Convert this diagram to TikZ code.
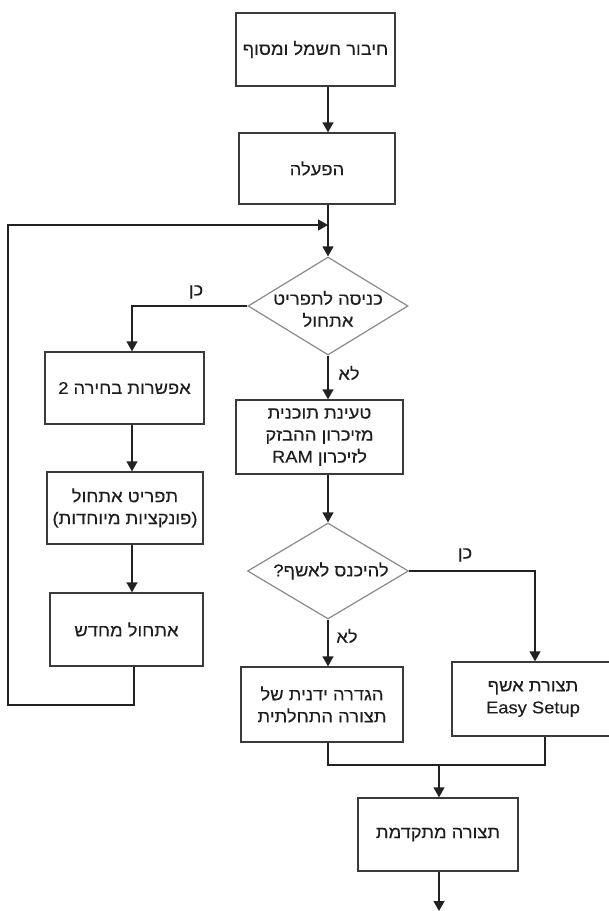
\documentclass[tikz,border=0pt]{standalone}
\usepackage{fontspec}
\setmainfont{Liberation Sans}
\newfontfamily\hebfont[Script=Hebrew,FakeStretch=1.08,FakeBold=0.25]{Liberation Sans}
\TeXXeTstate=1
\usetikzlibrary{arrows.meta,shapes.geometric}
\newcommand\heb[1]{\beginR #1\endR}
\definecolor{boxc}{HTML}{3A3A3A}
\definecolor{diac}{HTML}{8A8A8A}
\definecolor{linec}{HTML}{222222}
\definecolor{txtc}{HTML}{1E1E1E}
\tikzset{
  txt/.style={font=\hebfont\fontsize{17}{22}\selectfont, text=txtc, align=center},
  box/.style={txt, draw=boxc, line width=1.3pt, fill=white, inner sep=0pt},
  dia/.style={diamond, draw=diac, line width=1.2pt, fill=white, inner sep=0pt},
  lbl/.style={txt, inner sep=0pt},
  conn/.style={draw=linec, line width=1.3pt},
  arr/.style={conn, -{Triangle[length=10pt,width=11pt]}}
}
\begin{document}
\begin{tikzpicture}[x=1pt,y=-1pt]
\useasboundingbox[fill=white] (0,0) rectangle (609,911);

% boxes
\node[box, minimum width=159pt, minimum height=73pt] (b1) at (315.5,49.5) {\heb{חיבור חשמל ומסוף}};
\node[box, minimum width=156pt, minimum height=71pt] (b2) at (317,168.5) {\heb{הפעלה}};
\node[box, minimum width=159pt, minimum height=72pt] (b3) at (124.5,388) {\heb{אפשרות בחירה 2}};
\node[box, minimum width=156pt, minimum height=72pt] (b4) at (125,508) {\heb{תפריט אתחול}\\\heb{(פונקציות מיוחדות)}};
\node[box, minimum width=153pt, minimum height=73pt] (b5) at (126.5,629.5) {\heb{אתחול מחדש}};
\node[box, minimum width=167pt, minimum height=74pt] (bram) at (319.5,437) {\heb{טעינת תוכנית}\\\heb{מזיכרון ההבזק}\\\heb{לזיכרון \beginL RAM\endL}};
\node[box, minimum width=162pt, minimum height=75pt] (b6) at (322,704.5) {\heb{הגדרה ידנית של}\\\heb{תצורה התחלתית}};
\node[box, minimum width=162pt, minimum height=74pt] (b7) at (533,699) {\heb{תצורת אשף}\\Easy Setup};
\node[box, minimum width=160pt, minimum height=73pt] (b8) at (438,834.5) {\heb{תצורה מתקדמת}};

% decisions
\node[dia, minimum width=160pt, minimum height=98pt] (d1) at (328,306) {};
\node[txt] (d1t) at (328,309) {\heb{כניסה לתפריט}\\\heb{אתחול}};
\node[dia, minimum width=161pt, minimum height=96pt] (d2) at (328,571) {};
\node[txt] (d2t) at (331,571) {\heb{להיכנס לאשף?}};

% labels
\node[lbl] (y1) at (196,292) {\heb{כן}};
\node[lbl] (n1) at (349,373) {\heb{לא}};
\node[lbl] (y2) at (465,555) {\heb{כן}};
\node[lbl] (n2) at (347,636) {\heb{לא}};

% routing points
\coordinate (j1) at (328,225);
\coordinate (c1) at (132,306);
\coordinate (c2) at (134,705);
\coordinate (c3) at (8,705);
\coordinate (c4) at (8,225);
\coordinate (c5) at (535,571);
\coordinate (m1) at (328,765);
\coordinate (m2) at (545,765);
\coordinate (m3) at (439,765);
\coordinate (fin) at (439,911);

% connectors
\draw[arr] (b1.south -| j1) -- (b2.north -| j1);
\draw[arr] (b2.south -| j1) -- (d1.north);
\draw[arr] (b5.south -| c2) -- (c2) -- (c3) -- (c4) -- (j1);
\draw[arr] (d1.west) -- (c1) -- (b3.north -| c1);
\draw[arr] (b3.south -| c1) -- (b4.north -| c1);
\draw[arr] (b4.south -| c1) -- (b5.north -| c1);
\draw[arr] (d1.south) -- (bram.north -| d1);
\draw[arr] (bram.south -| d1) -- (d2.north);
\draw[arr] (d2.east) -- (c5) -- (b7.north -| c5);
\draw[arr] (d2.south) -- (b6.north -| d2);
\draw[conn] (b6.south -| m1) -- (m1) -- (m2) -- (b7.south -| m2);
\draw[arr] (m3) -- (b8.north -| m3);
\draw[arr] (b8.south -| m3) -- (fin);
\end{tikzpicture}
\end{document}
